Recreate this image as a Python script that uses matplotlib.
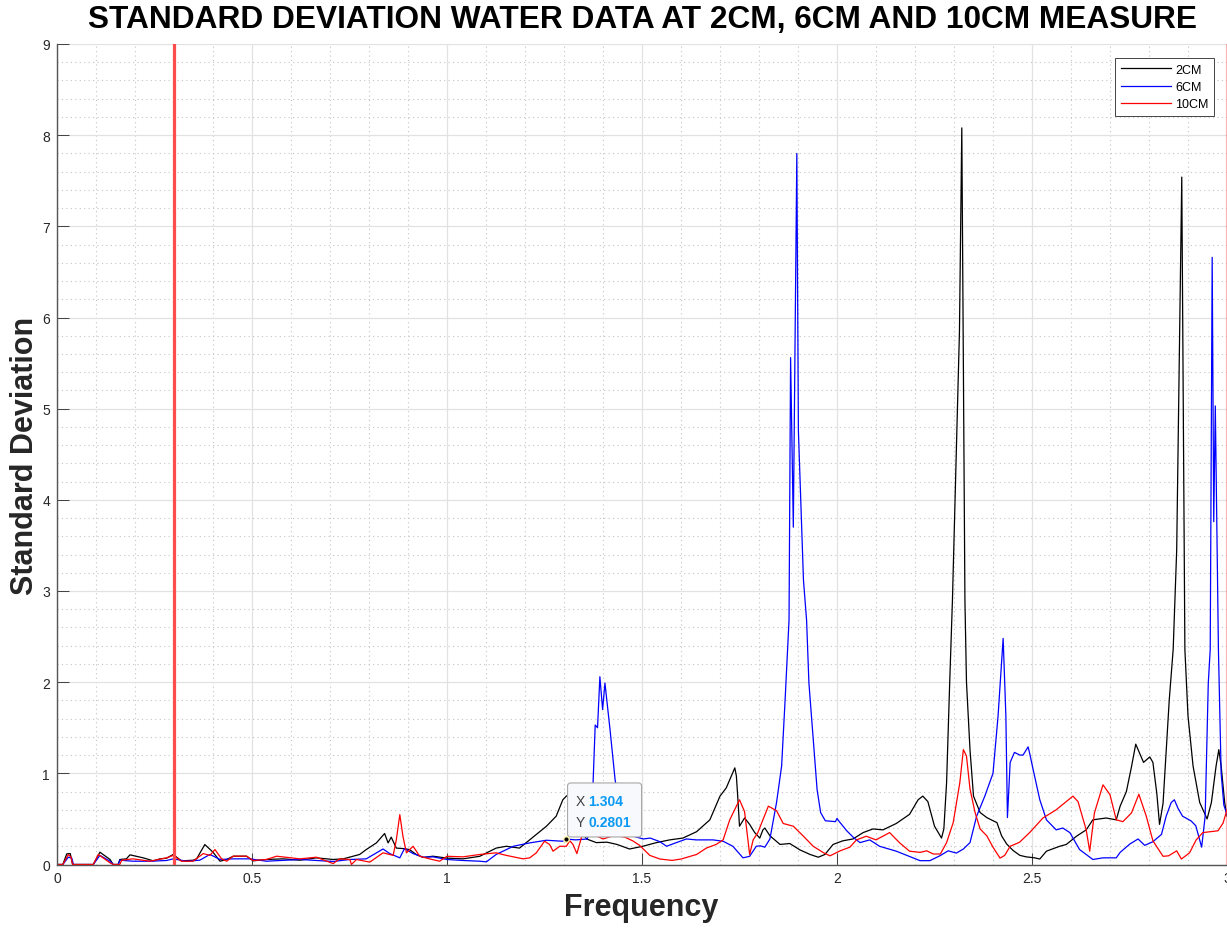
import matplotlib
matplotlib.use("Agg")
import matplotlib.pyplot as plt
from matplotlib.patches import FancyBboxPatch
from matplotlib.transforms import IdentityTransform

plt.rcParams['font.family'] = ['Liberation Sans', 'DejaVu Sans']

# standard deviation spectra, 2 cm probe
freq_2cm = [0.0, 0.015, 0.025, 0.034, 0.04, 0.093, 0.11, 0.136, 0.144, 0.157, 0.161, 0.178, 0.187,
            0.221, 0.247, 0.264, 0.281, 0.298, 0.319, 0.349, 0.358, 0.379, 0.4, 0.418, 0.435, 0.452,
            0.486, 0.503, 0.537, 0.58, 0.623, 0.665, 0.708, 0.734, 0.759, 0.776, 0.793, 0.819, 0.84,
            0.849, 0.857, 0.87, 0.887, 0.904, 0.921, 0.939, 0.964, 1.0, 1.041, 1.084, 1.126, 1.152,
            1.186, 1.212, 1.255, 1.28, 1.297, 1.306, 1.318, 1.332, 1.345, 1.358, 1.383, 1.41, 1.436,
            1.468, 1.502, 1.537, 1.571, 1.605, 1.64, 1.674, 1.7, 1.716, 1.729, 1.738, 1.742, 1.746,
            1.75, 1.763, 1.776, 1.789, 1.802, 1.81, 1.815, 1.828, 1.854, 1.879, 1.905, 1.931, 1.952,
            1.969, 1.99, 2.015, 2.041, 2.067, 2.092, 2.118, 2.152, 2.186, 2.208, 2.22, 2.233, 2.25,
            2.268, 2.274, 2.281, 2.289, 2.296, 2.314, 2.32, 2.328, 2.332, 2.341, 2.35, 2.367, 2.384,
            2.4, 2.41, 2.422, 2.435, 2.452, 2.469, 2.485, 2.507, 2.52, 2.537, 2.571, 2.588, 2.614,
            2.639, 2.656, 2.69, 2.716, 2.726, 2.742, 2.755, 2.766, 2.776, 2.786, 2.802, 2.81, 2.82,
            2.827, 2.836, 2.852, 2.862, 2.871, 2.884, 2.892, 2.9, 2.913, 2.93, 2.949, 2.96, 2.972,
            2.979, 2.985, 2.994, 3.0]
sd_2cm = [0.0, 0.0, 0.117, 0.12, 0.0, 0.0, 0.135, 0.055, 0.0, 0.0, 0.055, 0.062, 0.106,
          0.073, 0.04, 0.062, 0.069, 0.11, 0.04, 0.047, 0.062, 0.219, 0.135, 0.036, 0.055, 0.091,
          0.091, 0.04, 0.055, 0.062, 0.047, 0.073, 0.055, 0.062, 0.091, 0.11, 0.164, 0.237, 0.34,
          0.237, 0.3, 0.18, 0.175, 0.164, 0.11, 0.077, 0.091, 0.07, 0.062, 0.09, 0.18, 0.2,
          0.18, 0.27, 0.42, 0.53, 0.71, 0.75, 0.78, 0.6, 0.36, 0.28, 0.24, 0.245, 0.22,
          0.17, 0.2, 0.24, 0.27, 0.29, 0.36, 0.49, 0.75, 0.84, 0.97, 1.06, 0.97, 0.71,
          0.42, 0.51, 0.44, 0.35, 0.29, 0.38, 0.4, 0.315, 0.22, 0.23, 0.16, 0.11, 0.08,
          0.11, 0.22, 0.26, 0.28, 0.35, 0.39, 0.38, 0.45, 0.55, 0.71, 0.75, 0.69, 0.42,
          0.29, 0.39, 0.9, 2.0, 2.9, 5.85, 8.08, 2.9, 2.0, 1.26, 0.75, 0.57, 0.515,
          0.48, 0.46, 0.315, 0.225, 0.152, 0.1, 0.084, 0.073, 0.06, 0.146, 0.2, 0.22, 0.31,
          0.38, 0.49, 0.51, 0.49, 0.64, 0.8, 1.07, 1.32, 1.22, 1.12, 1.18, 1.12, 0.78,
          0.44, 0.67, 1.81, 2.36, 3.45, 7.54, 2.36, 1.63, 1.08, 0.68, 0.5, 0.68, 1.08,
          1.26, 1.08, 0.68, 0.53]

# 6 cm probe
freq_6cm = [0.0, 0.015, 0.029, 0.038, 0.042, 0.093, 0.11, 0.136, 0.144, 0.157, 0.161, 0.195, 0.238,
            0.281, 0.298, 0.332, 0.366, 0.392, 0.418, 0.452, 0.495, 0.537, 0.623, 0.708, 0.751,
            0.793, 0.836, 0.853, 0.879, 0.891, 0.913, 0.939, 0.964, 1.0, 1.041, 1.084, 1.101, 1.126,
            1.17, 1.212, 1.255, 1.297, 1.304, 1.33, 1.36, 1.372, 1.38, 1.386, 1.392, 1.399, 1.405,
            1.409, 1.418, 1.431, 1.45, 1.47, 1.503, 1.521, 1.546, 1.563, 1.588, 1.614, 1.639, 1.682,
            1.708, 1.733, 1.759, 1.776, 1.793, 1.803, 1.815, 1.828, 1.845, 1.858, 1.867, 1.877,
            1.881, 1.888, 1.897, 1.901, 1.914, 1.922, 1.928, 1.941, 1.949, 1.958, 1.97, 1.996, 2.0,
            2.006, 2.025, 2.042, 2.059, 2.084, 2.109, 2.152, 2.195, 2.213, 2.238, 2.264, 2.285,
            2.306, 2.324, 2.341, 2.358, 2.379, 2.4, 2.413, 2.426, 2.433, 2.437, 2.444, 2.455, 2.469,
            2.477, 2.49, 2.494, 2.503, 2.52, 2.537, 2.562, 2.579, 2.597, 2.622, 2.656, 2.682, 2.716,
            2.726, 2.751, 2.772, 2.789, 2.81, 2.832, 2.844, 2.857, 2.865, 2.874, 2.886, 2.908, 2.92,
            2.935, 2.944, 2.952, 2.957, 2.962, 2.966, 2.97, 2.978, 2.985, 2.992, 3.0]
sd_6cm = [0.0, 0.0, 0.08, 0.07, 0.0, 0.0, 0.1, 0.036, 0.0, 0.0, 0.047, 0.036, 0.036,
          0.044, 0.062, 0.036, 0.047, 0.11, 0.055, 0.062, 0.062, 0.036, 0.055, 0.033, 0.055,
          0.062, 0.17, 0.12, 0.073, 0.175, 0.12, 0.08, 0.084, 0.055, 0.044, 0.036, 0.029, 0.11,
          0.2, 0.237, 0.266, 0.255, 0.2801, 0.27, 0.28, 0.6, 1.53, 1.5, 2.06, 1.7, 1.99,
          1.83, 1.48, 0.93, 0.45, 0.32, 0.28, 0.29, 0.25, 0.2, 0.24, 0.28, 0.27, 0.27,
          0.255, 0.2, 0.073, 0.09, 0.2, 0.205, 0.19, 0.28, 0.68, 1.08, 1.81, 2.68,
          5.56, 3.7, 7.8, 4.76, 3.12, 2.68, 1.99, 1.26, 0.82, 0.57, 0.48, 0.47, 0.505,
          0.47, 0.37, 0.297, 0.24, 0.27, 0.2, 0.146, 0.073, 0.042, 0.042, 0.096, 0.15,
          0.125, 0.17, 0.24, 0.53, 0.75, 1.0, 1.63, 2.48, 1.63, 0.515, 1.12, 1.23, 1.2,
          1.2, 1.29, 1.22, 1.04, 0.71, 0.49, 0.38, 0.4, 0.35, 0.164, 0.055, 0.073, 0.073,
          0.133, 0.225, 0.28, 0.21, 0.25, 0.33, 0.53, 0.68, 0.71, 0.62, 0.53, 0.478, 0.425,
          0.19, 0.53, 1.99, 2.36, 6.66, 3.76, 5.03, 2.36, 1.0, 0.65, 0.55]

# 10 cm probe
freq_10cm = [0.0, 0.015, 0.029, 0.036, 0.04, 0.093, 0.106, 0.136, 0.144, 0.161, 0.166, 0.195, 0.238,
             0.281, 0.298, 0.319, 0.349, 0.375, 0.392, 0.405, 0.422, 0.435, 0.452, 0.486, 0.503,
             0.537, 0.563, 0.623, 0.665, 0.708, 0.725, 0.751, 0.755, 0.768, 0.802, 0.836, 0.862,
             0.87, 0.879, 0.887, 0.896, 0.913, 0.93, 0.955, 0.981, 1.0, 1.041, 1.084, 1.126, 1.152,
             1.17, 1.195, 1.212, 1.229, 1.25, 1.263, 1.272, 1.289, 1.306, 1.315, 1.323, 1.333,
             1.345, 1.357, 1.375, 1.4, 1.43, 1.456, 1.476, 1.494, 1.52, 1.546, 1.577, 1.6, 1.64,
             1.665, 1.69, 1.708, 1.725, 1.75, 1.763, 1.776, 1.785, 1.797, 1.81, 1.824, 1.845, 1.862,
             1.888, 1.914, 1.939, 1.965, 1.982, 2.008, 2.033, 2.05, 2.075, 2.1, 2.135, 2.16, 2.186,
             2.213, 2.23, 2.247, 2.265, 2.281, 2.298, 2.315, 2.324, 2.332, 2.341, 2.354, 2.367,
             2.384, 2.4, 2.418, 2.43, 2.444, 2.468, 2.494, 2.528, 2.562, 2.605, 2.618, 2.639, 2.648,
             2.66, 2.682, 2.7, 2.716, 2.733, 2.755, 2.774, 2.793, 2.81, 2.836, 2.85, 2.871, 2.883,
             2.904, 2.921, 2.938, 2.977, 2.99, 3.0]
sd_10cm = [0.0, 0.0, 0.11, 0.08, 0.0, 0.0, 0.11, 0.018, 0.0, 0.0, 0.047, 0.062, 0.036,
           0.073, 0.1, 0.036, 0.036, 0.12, 0.1, 0.164, 0.062, 0.036, 0.091, 0.091, 0.044,
           0.055, 0.091, 0.062, 0.08, 0.01, 0.062, 0.055, 0.0, 0.055, 0.026, 0.128, 0.1,
           0.27, 0.547, 0.31, 0.128, 0.2, 0.091, 0.062, 0.036, 0.09, 0.084, 0.11, 0.128, 0.1,
           0.084, 0.062, 0.073, 0.128, 0.255, 0.22, 0.146, 0.2, 0.2, 0.26, 0.22, 0.12,
           0.3, 0.38, 0.33, 0.28, 0.32, 0.3, 0.26, 0.21, 0.1, 0.06, 0.045, 0.06, 0.11,
           0.18, 0.22, 0.27, 0.49, 0.71, 0.58, 0.11, 0.27, 0.35, 0.49, 0.64, 0.59, 0.45,
           0.42, 0.31, 0.2, 0.13, 0.095, 0.15, 0.19, 0.27, 0.31, 0.27, 0.35, 0.24, 0.146,
           0.133, 0.15, 0.115, 0.115, 0.24, 0.46, 0.9, 1.26, 1.19, 0.83, 0.57, 0.39,
           0.315, 0.19, 0.07, 0.1, 0.2, 0.244, 0.35, 0.51, 0.6, 0.75, 0.69, 0.38, 0.146,
           0.565, 0.874, 0.765, 0.49, 0.47, 0.565, 0.77, 0.53, 0.26, 0.09, 0.095, 0.15, 0.06,
           0.128, 0.27, 0.35, 0.37, 0.455, 0.6]

series_labels = ['2CM', '6CM', '10CM']
cutoff_freq = 0.3
tip_x, tip_y = 1.304, 0.2801

fig = plt.figure(figsize=(12.27, 9.29), dpi=100)
ax = fig.add_axes([57 / 1227, 1 - 865.5 / 929, 1170 / 1227, (865.5 - 45) / 929])

ax.plot(freq_2cm, sd_2cm, color='k', lw=0.9, label=series_labels[0], zorder=2)
ax.plot(freq_6cm, sd_6cm, color='#0000ff', lw=0.9, label=series_labels[1], zorder=2)
ax.plot(freq_10cm, sd_10cm, color='#ff0000', lw=0.9, label=series_labels[2], zorder=2)
ax.axvline(cutoff_freq, color='#ff4d4d', lw=2.3, zorder=3)
ax.axvline(3.0, color='#ff4d4d', lw=2.3, alpha=0.4, zorder=3)

ax.set_xlim(0, 3)
ax.set_ylim(0, 9)
ax.set_xticks([0, 0.5, 1, 1.5, 2, 2.5, 3])
ax.set_xticklabels(['0', '0.5', '1', '1.5', '2', '2.5', '3'])
ax.set_yticks(range(10))
ax.set_xticks([i / 10 for i in range(31)], minor=True)
ax.set_yticks([i / 5 for i in range(46)], minor=True)
ax.tick_params(which='major', direction='in', length=8.5, width=0.6, color='#262626',
               labelsize=10, labelcolor='#262626', pad=5)
ax.tick_params(which='minor', length=0)
ax.grid(which='major', color='#e2e2e2', lw=0.9, ls='-', zorder=0)
ax.grid(which='minor', color='#c4c4c4', lw=0.8, ls=(0, (1, 3)), zorder=0)
ax.set_axisbelow(True)
for side in ['top', 'right']:
    ax.spines[side].set_visible(False)
for side in ['left', 'bottom']:
    ax.spines[side].set_color('#555555')
    ax.spines[side].set_linewidth(1.0)

fig.text(642 / 1227, 1 - 20 / 929, 'STANDARD DEVIATION WATER DATA AT 2CM, 6CM AND 10CM MEASURE',
         ha='center', va='center', fontsize=22.8, fontweight='bold')
fig.text(641 / 1227, 1 - 908 / 929, 'Frequency', ha='center', va='center',
         fontsize=22, fontweight='bold', color='#262626')
fig.text(25 / 1227, 1 - 456 / 929, 'Standard Deviation', ha='center', va='center',
         rotation=90, fontsize=22, fontweight='bold', color='#262626')

leg = ax.legend(loc='upper right', bbox_to_anchor=(1214 / 1227, 1 - 59 / 929),
                bbox_transform=fig.transFigure, borderaxespad=0, fontsize=9,
                handlelength=4.0, handletextpad=0.35, labelspacing=0.42,
                borderpad=0.45, fancybox=False, framealpha=1)
leg.get_frame().set_edgecolor('#262626')
leg.get_frame().set_linewidth(0.6)

# data tip on the 6 cm trace
ax.plot([tip_x], [tip_y], 'o', ms=4, mfc='k', mec='#fff6b0', mew=1.0, zorder=6)
mx, my = ax.transData.transform((tip_x, tip_y))
box = FancyBboxPatch((mx + 2, my + 2), 74, 54, boxstyle='round,pad=0,rounding_size=3',
                     transform=IdentityTransform(), facecolor='#f8f9fc', edgecolor='#a8a8a8',
                     lw=0.8, zorder=5, clip_on=False)
ax.add_artist(box)
px2pt = 0.72
for lbl, val, up in [('X', f'{tip_x:g}', 38), ('Y', f'{tip_y:g}', 17)]:
    ax.annotate(lbl, xy=(tip_x, tip_y), xytext=(10 * px2pt, up * px2pt), textcoords='offset points',
                ha='left', va='center', fontsize=10, color='#404040', zorder=7)
    ax.annotate(val, xy=(tip_x, tip_y), xytext=(23 * px2pt, up * px2pt), textcoords='offset points',
                ha='left', va='center', fontsize=10, fontweight='bold', color='#0a99f5', zorder=7)

fig.savefig('out.png', dpi=100)
